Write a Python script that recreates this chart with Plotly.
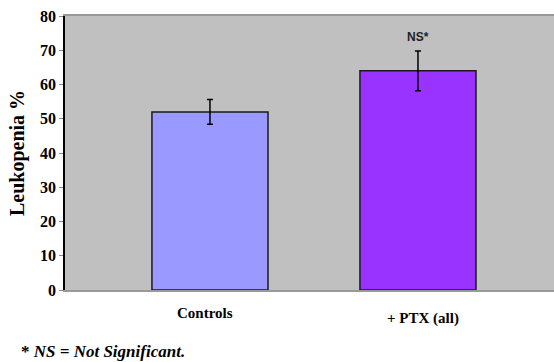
import plotly.graph_objects as go

categories = ["Controls", "+ PTX (all)"]
values = [52.0, 64.0]
errors = [3.6, 5.8]
bar_colors = ["#9999FF", "#9933FF"]
label_shift = [-23, -28]
label_xshift = [-5, 5]
y_ticks = [0, 10, 20, 30, 40, 50, 60, 70, 80]

SERIF = "Liberation Serif"

fig = go.Figure()
fig.add_trace(go.Bar(
    x=categories, y=values,
    marker=dict(color=bar_colors, line=dict(color="#1a1a1a", width=1.5)),
    width=0.558,
    error_y=dict(type="data", array=errors, visible=True, color="#000000", thickness=1.5, width=3),
    showlegend=False,
))

for c, s, xs in zip(categories, label_shift, label_xshift):
    fig.add_annotation(x=c, y=0, xref="x", yref="y", text="<b>" + c + "</b>", showarrow=False,
                       yshift=s, xshift=xs, font=dict(family=SERIF, size=15, color="#000000"))

fig.add_annotation(x=categories[1], y=values[1] + errors[1], xref="x", yref="y", text="<b>NS*</b>",
                   showarrow=False, yshift=14,
                   font=dict(family="Liberation Sans", size=12, color="#222222"))

fig.add_annotation(x=(19 - 65) / 489, y=(290 - 351) / 274, xref="paper", yref="paper",
                   text="<b>* <i>NS = Not Significant.</i></b>",
                   showarrow=False, xanchor="left", yanchor="middle",
                   font=dict(family=SERIF, size=17, color="#000000"))

fig.update_layout(
    width=554, height=362,
    margin=dict(l=65, r=0, t=16, b=72),
    paper_bgcolor="white", plot_bgcolor="#C0C0C0",
    font=dict(family=SERIF, color="#000000"),
)

fig.update_xaxes(range=[-0.697, 1.654], showticklabels=False, ticks="",
                 showline=True, linecolor="#999999", linewidth=1.5, mirror=True, showgrid=False,
                 zeroline=False)
fig.update_yaxes(range=[0, 80], tickvals=y_ticks, ticktext=["<b>%d</b>" % t for t in y_ticks],
                 showgrid=False, zeroline=False,
                 showline=True, linecolor="#000000", linewidth=1.5,
                 ticks="outside", ticklen=4, tickcolor="#888888", tickwidth=1,
                 tickfont=dict(family=SERIF, size=16, color="#000000"),
                 title=dict(text="<b>Leukopenia %</b>", standoff=10,
                            font=dict(family=SERIF, size=20, color="#000000")))

fig.write_html("out.html")
